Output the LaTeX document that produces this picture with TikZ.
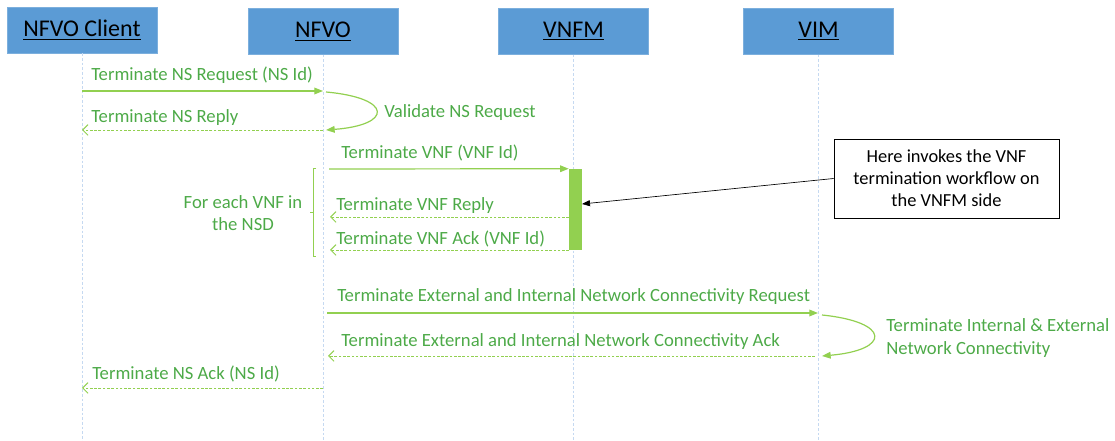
\documentclass[tikz,border=0pt]{standalone}
\usepackage{fontspec}
\setmainfont{Carlito}
\usetikzlibrary{arrows.meta}
\definecolor{hdrblue}{HTML}{5B9BD5}
\definecolor{msgtext}{HTML}{4DAA48}
\definecolor{msgline}{HTML}{92D050}
\definecolor{lifeblue}{HTML}{C5D9F1}
\begin{document}
\begin{tikzpicture}[x=0.75pt,y=-0.75pt,
  header/.style={fill=hdrblue, draw=hdrblue!80!white, line width=0.5pt,
    minimum width=112.5pt, minimum height=34.5pt, inner sep=0pt,
    font=\fontsize{18}{21}\selectfont},
  lifeline/.style={draw=lifeblue, line width=0.6pt, dash pattern=on 2pt off 1.5pt},
  msg/.style={text=msgtext, font=\fontsize{14}{16.5}\selectfont, inner sep=0pt, anchor=base west},
  call/.style={draw=msgline, line width=0.9pt, -{Triangle[length=6.5pt,width=5pt]}},
  reply/.style={draw=msgline, line width=0.7pt, dash pattern=on 2pt off 1.2pt,
    -{Straight Barb[length=4pt,width=8pt]}},
  ]
\useasboundingbox (0,0) rectangle (1115,441);

% participants
\node[header] (client) at (82,30)    {\underline{NFVO Client}};
\node[header] (nfvo)   at (323,31.5) {\underline{NFVO}};
\node[header] (vnfm)   at (573.5,31.5) {\underline{VNFM}};
\node[header] (vim)    at (818.5,31.5) {\underline{VIM}};

% lifelines
\coordinate (clientEnd) at (82,441);
\coordinate (nfvoEnd)   at (323,441);
\coordinate (vnfmEnd)   at (573.5,441);
\coordinate (vimEnd)    at (818.5,441);
\draw[lifeline] (client.south) -- (clientEnd);
\draw[lifeline] (nfvo.south)   -- (nfvoEnd);
\draw[lifeline] (vnfm.south)   -- (vnfmEnd);
\draw[lifeline] (vim.south)    -- (vimEnd);

% activation bar on the VNFM
\node[fill=msgline, minimum width=9.75pt, minimum height=60.75pt, inner sep=0pt] (bar) at (575.5,209.5) {};

% message end points
\coordinate (c1) at (82,91);    \coordinate (n1) at (323,91);
\coordinate (n1b) at (326,92);  \coordinate (n2) at (326,130);
\coordinate (n2r) at (323,130); \coordinate (c2) at (82,130);
\coordinate (n3) at (329,169);
\coordinate (b4) at (569,217);  \coordinate (n4) at (330,217);
\coordinate (b5) at (569,250);  \coordinate (n5) at (330,250);
\coordinate (n6) at (327,313);  \coordinate (v6) at (818,313);
\coordinate (v6b) at (822,315); \coordinate (v7) at (822,356);
\coordinate (v7r) at (815,356); \coordinate (n7) at (328,356);
\coordinate (n8) at (323,388);  \coordinate (c8) at (82,388);
\coordinate (barHit) at (582,204);

% messages
\node[msg] (t1) at (91,81) {Terminate NS Request (NS Id)};
\draw[call] (c1) -- (n1);
\draw[call] (n1b) .. controls (393,98) and (393,125) .. (n2);
\node[msg] (t2) at (384,118) {Validate NS Request};
\node[msg] (t3) at (91,123) {Terminate NS Reply};
\draw[reply] (n2r) -- (c2);

\node[msg] (t4) at (341,159) {Terminate VNF (VNF Id)};
\draw[call] (n3) -- (bar.north west);
\node[msg] (t5) at (336,211) {Terminate VNF Reply};
\draw[reply] (b4) -- (n4);
\node[msg] (t6) at (336,245) {Terminate VNF Ack (VNF Id)};
\draw[reply] (b5) -- (n5);

% loop bracket
\draw[msgline, line width=0.6pt] (316,168) -- (313,168) -- (313,256) -- (316,256);
\draw[msgline, line width=0.6pt] (313,212) -- (310,212);
\node[text=msgtext, font=\fontsize{14}{16.5}\selectfont, align=center, inner sep=0pt] (loop) at (243,213)
  {For each VNF in\\the NSD};

\node[msg] (t7) at (337,302) {Terminate External and Internal Network Connectivity Request};
\draw[call] (n6) -- (v6);
\draw[call] (v6b) .. controls (891,322) and (891,350) .. (v7);
\node[text=msgtext, font=\fontsize{14}{17.25}\selectfont, align=left, inner sep=0pt, anchor=west] (t8) at (886,338)
  {Terminate Internal \& External\\Network Connectivity};
\node[msg] (t9) at (341,347) {Terminate External and Internal Network Connectivity Ack};
\draw[reply] (v7r) -- (n7);

\node[msg] (t10) at (92,380) {Terminate NS Ack (NS Id)};
\draw[reply] (n8) -- (c8);

% annotation
\node[draw=black, line width=0.6pt, minimum width=168.75pt, minimum height=59.25pt, inner sep=0pt,
  align=center, font=\fontsize{13.8}{16.5}\selectfont] (note) at (946.5,178.5)
  {Here invokes the VNF\\termination workflow on\\the VNFM side};
\draw[black, line width=0.5pt, -{Triangle[length=6pt,width=4.5pt]}] (note.west) -- (barHit);
\end{tikzpicture}
\end{document}
